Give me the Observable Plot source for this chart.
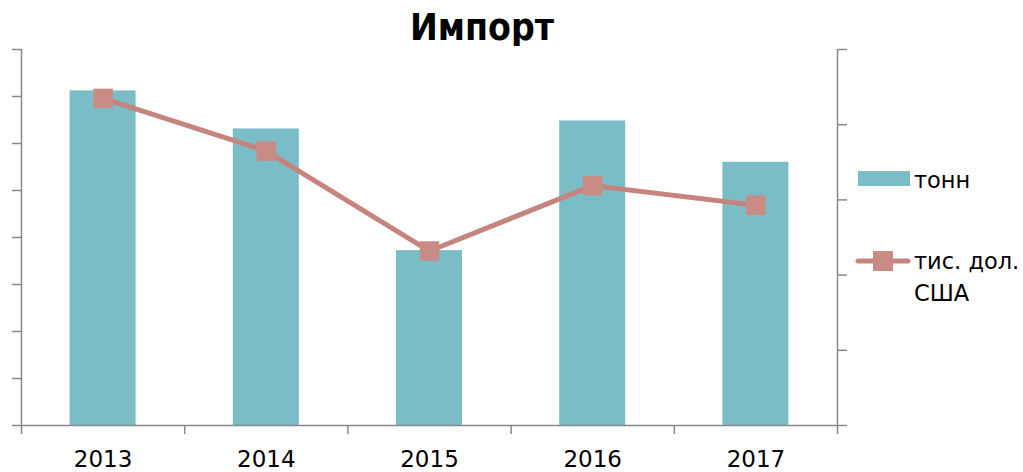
<!DOCTYPE html>
<html><head><meta charset="utf-8">
<script src="https://cdn.jsdelivr.net/npm/d3@7"></script>
<script src="https://cdn.jsdelivr.net/npm/@observablehq/plot@0.6"></script>
<style>
body{margin:0;background:#fff;}
#wrap{position:relative;width:1023px;height:472px;font-family:"DejaVu Sans",sans-serif;overflow:hidden;}
#title{position:absolute;left:282px;top:9px;width:400px;text-align:center;font-weight:bold;font-size:37px;line-height:1;font-family:"DejaVu Sans Condensed","DejaVu Sans",sans-serif;}
#chart{position:absolute;left:0;top:46px;}
#legend{position:absolute;left:0;top:0;width:1023px;height:472px;pointer-events:none;}
.lt{position:absolute;font-size:22.5px;line-height:32px;color:#000;}
</style></head>
<body><div id="wrap"><div id="title">Импорт</div><div id="chart"></div><div id="legend"></div></div>
<script>
const years = ["2013","2014","2015","2016","2017"];
const tonnes = [7.12, 6.31, 3.72, 6.48, 5.6];
const usd = [4.35, 3.65, 2.32, 3.19, 2.93];
const leftTicks = [0,1,2,3,4,5,6,7,8];
const rightTicks = [0,1,2,3,4,5];
const seriesNames = ["тонн", "тис. дол. США"];
const barColor = "#7bbdc6", lineColor = "#c5857e", markColor = "#c98b84", axisColor = "#888888";

const leftMax = d3.max(leftTicks), rightMax = d3.max(rightTicks);
const ratio = leftMax / rightMax;
const data = years.map((y, i) => ({year: y, i, tonnes: tonnes[i], usd: usd[i]}));

const chart = Plot.plot({
  width: 1023, height: 426,
  marginTop: 3, marginBottom: 47, marginLeft: 21, marginRight: 186,
  x: {domain: [0, years.length]},
  y: {domain: [0, leftMax]},
  style: {fontFamily: "DejaVu Sans", fontSize: "23px", color: "#000", background: "#fff"},
  marks: [
    Plot.rectY(data, {x1: "i", x2: d => d.i + 1, y: "tonnes", fill: barColor, insetLeft: 48.6, insetRight: 48.6}),
    Plot.ruleY([0], {stroke: axisColor, strokeWidth: 1.5}),
    Plot.ruleX([0, years.length], {stroke: axisColor, strokeWidth: 1.5}),
    Plot.axisY(leftTicks, {anchor: "left", tickSize: 9, tickFormat: () => "", stroke: axisColor, strokeWidth: 1.5, label: null}),
    Plot.axisY(rightTicks.map(t => t * ratio), {anchor: "right", tickSize: 9, tickFormat: () => "", stroke: axisColor, strokeWidth: 1.5, label: null}),
    Plot.axisX(d3.range(years.length + 1), {anchor: "bottom", tickSize: 9, tickFormat: () => "", stroke: axisColor, strokeWidth: 1.5, label: null}),
    Plot.axisX(years.map((_, i) => i + 0.5), {anchor: "bottom", tickSize: 0, tickPadding: 25, tickFormat: v => years[Math.floor(v)], fontSize: 23, fill: "#000", label: null}),
    Plot.line(data, {x: d => d.i + 0.5, y: d => d.usd * ratio, stroke: lineColor, strokeWidth: 5}),
    Plot.dot(data, {x: d => d.i + 0.5, y: d => d.usd * ratio, symbol: "square", r: 11, fill: markColor, stroke: null})
  ]
});
document.getElementById("chart").appendChild(chart);

// legend
const lg = document.getElementById("legend");
lg.innerHTML = `
<svg width="1023" height="472" style="position:absolute;left:0;top:0">
  <rect x="858" y="171" width="52" height="15" fill="${barColor}"/>
  <line x1="858" y1="261" x2="908" y2="261" stroke="${lineColor}" stroke-width="5" stroke-linecap="round"/>
  <rect x="873" y="251" width="20" height="20" fill="${markColor}"/>
</svg>
<div class="lt" style="left:914px;top:164px">${seriesNames[0]}</div>
<div class="lt" style="left:914px;top:245px;width:110px">${seriesNames[1]}</div>`;
</script></body></html>
